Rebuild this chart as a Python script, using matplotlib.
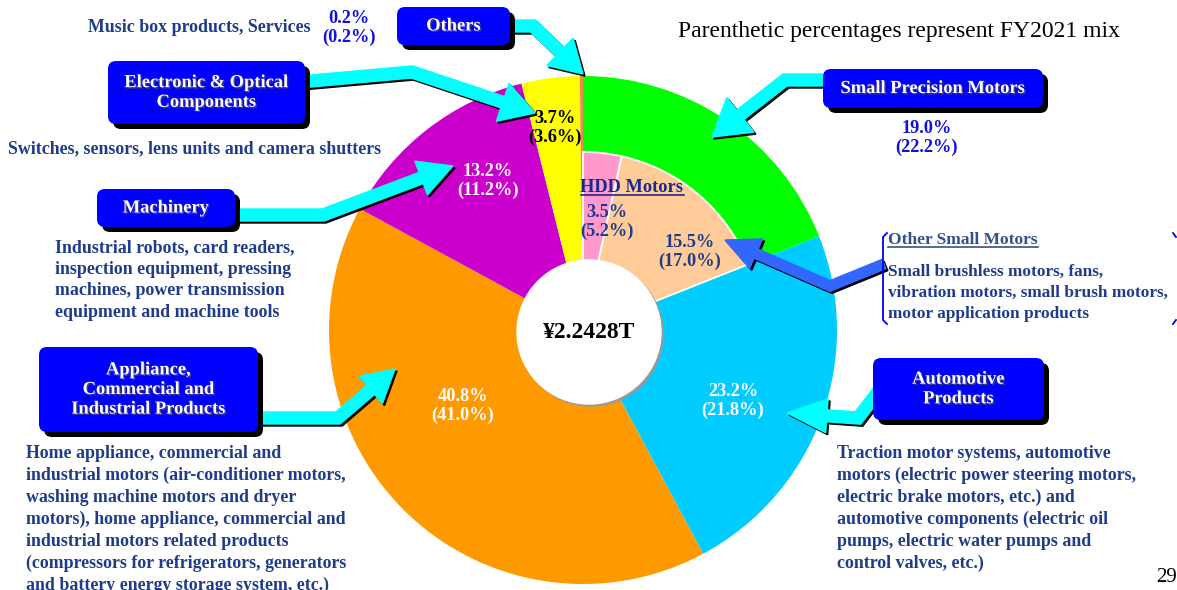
import numpy as np
import matplotlib
matplotlib.use('Agg')
import matplotlib.pyplot as plt
from matplotlib.patches import FancyBboxPatch, Circle, Polygon
import matplotlib.patheffects as pe

W, H = 1177, 590

# segment shares (clockwise from 12 o'clock), FY2022 and FY2021
segments = ['Small Precision Motors', 'Automotive Products',
            'Appliance, Commercial and Industrial Products', 'Machinery',
            'Electronic & Optical Components', 'Others']
share = [19.0, 23.2, 40.8, 13.2, 3.7, 0.2]
share_prev = [22.2, 21.8, 41.0, 11.2, 3.6, 0.2]
seg_colors = ['#00FF00', '#00CCFF', '#FF9900', '#CC00CC', '#FFFF00', '#F08A4B']

# split of small precision motors
sub_names = ['HDD Motors', 'Other Small Motors']
sub_share = [3.5, 15.5]
sub_prev = [5.2, 17.0]
sub_colors = ['#FF99CC', '#FFCC99']

total_sales = '¥2.2428T'

NAVY = '#1F3C8C'
BLUE = '#1010E0'
SERIF = ['Liberation Serif', 'DejaVu Serif']
PCT_SIZE = 13.2
DESC_SIZE = 12.85


def P(x, y):
    # pixel position (y down) -> data
    return (x, H - y)


fig = plt.figure(figsize=(W / 100, H / 100), dpi=100)
ax = fig.add_axes([0, 0, 1, 1])

cx, cy = P(583, 330)
ax.pie(share, colors=seg_colors, startangle=90, counterclock=False,
       radius=254, center=(cx, cy), wedgeprops=dict(linewidth=0))
inner_vals = sub_share + [sum(share) - sum(sub_share)]
wedges, _ = ax.pie(inner_vals, colors=sub_colors + ['none'], startangle=90,
                   counterclock=False, radius=178, center=(cx, cy),
                   wedgeprops=dict(linewidth=1.3, edgecolor='white'))
wedges[-1].set_edgecolor('none')

# center hole
hx, hy = P(589, 332)
ax.add_patch(Circle((hx + 2, hy - 2), 72, color='#999999', zorder=5))
ax.add_patch(Circle((hx, hy), 72, color='white', zorder=6))
ax.text(hx, hy, total_sales, ha='center', va='center', fontsize=17,
        fontweight='bold', family=SERIF, zorder=7)

ax.set_xlim(0, W)
ax.set_ylim(0, H)
ax.set_aspect('equal')
ax.axis('off')


def arrow(pts, color, w=12, hl=30, hw=36):
    pts = np.array([P(*p) for p in pts], dtype=float)
    d = pts[-1] - pts[-2]
    d /= np.linalg.norm(d)
    base = pts[-1] - d * hl
    line = np.vstack([pts[:-1], base])
    left, right = [], []
    for i in range(len(line)):
        if i == 0:
            t = line[1] - line[0]
        elif i == len(line) - 1:
            t = line[-1] - line[-2]
        else:
            t = None
        if t is not None:
            t = t / np.linalg.norm(t)
            n = np.array([-t[1], t[0]])
            off = n * w / 2
        else:
            t1 = line[i] - line[i - 1]
            t1 /= np.linalg.norm(t1)
            t2 = line[i + 1] - line[i]
            t2 /= np.linalg.norm(t2)
            n1 = np.array([-t1[1], t1[0]])
            n2 = np.array([-t2[1], t2[0]])
            m = n1 + n2
            m /= np.linalg.norm(m)
            off = m * (w / 2) / np.dot(m, n1)
        left.append(line[i] + off)
        right.append(line[i] - off)
    n = np.array([-d[1], d[0]])
    poly = left + [base + n * hw / 2, pts[-1], base - n * hw / 2] + right[::-1]
    poly = np.array(poly)
    ax.add_patch(Polygon(poly + [2, -2], closed=True, color='black', zorder=3))
    ax.add_patch(Polygon(poly, closed=True, color=color, zorder=4))


def box(x0, y0, x1, y1, text):
    bx, by = P(x0, y1)
    bw, bh = x1 - x0, y1 - y0
    ax.add_patch(FancyBboxPatch((bx + 5, by - 5), bw, bh,
                                boxstyle='round,pad=0,rounding_size=8',
                                fc='black', ec='none', zorder=8))
    ax.add_patch(FancyBboxPatch((bx, by), bw, bh,
                                boxstyle='round,pad=0,rounding_size=8',
                                fc='#0000FF', ec='none', zorder=9))
    ax.text(bx + bw / 2, by + bh / 2, text, ha='center', va='center',
            color='white', fontsize=13.3, fontweight='bold', family=SERIF,
            linespacing=1.2, zorder=10,
            path_effects=[pe.withSimplePatchShadow(offset=(1, -1),
                                                   shadow_rgbFace='#555555',
                                                   alpha=0.7)])


def txt(x, y, s, color=NAVY, size=DESC_SIZE, ha='left', va='center', ls=1.36, weight='bold'):
    return ax.text(*P(x, y), s, color=color, fontsize=size, ha=ha, va=va,
                   fontweight=weight, family=SERIF, linespacing=ls, zorder=11)


def underline(t, color):
    fig.canvas.draw()
    bb = t.get_window_extent().transformed(ax.transData.inverted())
    ax.plot([bb.x0, bb.x1], [bb.y0 + 1, bb.y0 + 1], color=color, lw=1.2, zorder=11)


# arrows
arrow([(505, 26), (533, 26), (583, 74)], '#00FFFF', hl=32, hw=38)
arrow([(300, 82), (412, 72), (535, 113)], '#00FFFF', hl=34, hw=40)
arrow([(828, 80), (785, 80), (712, 137)], '#00FFFF', hl=36, hw=44)
arrow([(230, 215), (323, 215), (453, 166)], '#00FFFF', hl=34, hw=36)
arrow([(255, 418), (338, 418), (395, 369)], '#00FFFF', hl=32, hw=36)
arrow([(878, 392), (858, 418), (787, 413)], '#00FFFF', hl=40, hw=34)
arrow([(884, 264), (830, 286), (725, 240)], '#3366FF', w=10, hl=34, hw=32)

# boxes
box(397, 7, 510, 45, 'Others')
box(108, 61, 305, 124, 'Electronic & Optical\nComponents')
box(823, 69, 1043, 108, 'Small Precision Motors')
box(97, 189, 235, 227, 'Machinery')
box(39, 347, 258, 432, 'Appliance,\nCommercial and\nIndustrial Products')
box(873, 358, 1044, 420, 'Automotive\nProducts')

ax.text(*P(678, 32), 'Parenthetic percentages represent FY2021 mix',
        fontsize=17, family=SERIF, ha='left', va='center', zorder=11)
ax.text(*P(1177, 577), '29', fontsize=15, family=SERIF, ha='right',
        va='center', zorder=11)


# percentage labels
def pct(i):
    return f'{share[i]:.1f}%\n({share_prev[i]:.1f}%)'


txt(927, 138, pct(0), color=BLUE, size=PCT_SIZE, ha='center', ls=1.1)
txt(733, 401, pct(1), color='white', size=PCT_SIZE, ha='center', ls=1.1)
txt(463, 406, pct(2), color='white', size=PCT_SIZE, ha='center', ls=1.1)
txt(488, 181, pct(3), color='white', size=PCT_SIZE, ha='center', ls=1.1)
txt(555, 128, pct(4), color='black', size=PCT_SIZE, ha='center', ls=1.1)
txt(349, 28, pct(5), color=BLUE, size=PCT_SIZE, ha='center', ls=1.1)

t_hdd = txt(632, 187, sub_names[0], color='#1A2A8C', size=PCT_SIZE, ha='center')
txt(607, 222, f'{sub_share[0]:.1f}%\n({sub_prev[0]:.1f}%)', color=NAVY,
    size=PCT_SIZE, ha='center', ls=1.1)
txt(690, 252, f'{sub_share[1]:.1f}%\n({sub_prev[1]:.1f}%)', color=NAVY,
    size=PCT_SIZE, ha='center', ls=1.1)

# descriptions
txt(88, 27, 'Music box products, Services')
txt(8, 149, 'Switches, sensors, lens units and camera shutters')
txt(55, 239, 'Industrial robots, card readers,\ninspection equipment, pressing\n'
    'machines, power transmission\nequipment and machine tools', va='top')
txt(26, 445, 'Home appliance, commercial and\nindustrial motors (air-conditioner motors,\n'
    'washing machine motors and dryer\nmotors), home appliance, commercial and\n'
    'industrial motors related products\n(compressors for refrigerators, generators\n'
    'and battery energy storage system, etc.)', va='top')
txt(837, 445, 'Traction motor systems, automotive\nmotors (electric power steering motors,\n'
    'electric brake motors, etc.) and\nautomotive components (electric oil\n'
    'pumps, electric water pumps and\ncontrol valves, etc.)', va='top')

t_osm = txt(888, 240, sub_names[1], color='#34508C', size=12.5)
txt(888, 264, 'Small brushless motors, fans,\nvibration motors, small brush motors,\n'
    'motor application products', va='top', size=12.4, ls=1.4)

# bracket around other small motors
bx0, by0 = P(883, 234)
bx1, by1 = P(883, 323)
ax.plot([bx0 + 4, bx0, bx0, bx0 + 4], [by0 + 1, by0 - 3, by1 + 3, by1 - 1],
        color='#0000FF', lw=1.3, zorder=11)
ax.plot([1173, 1176], [by0 + 1, by0 - 3], color='#0000FF', lw=1.3, zorder=11)
ax.plot([1173, 1176], [by1 - 1, by1 + 3], color='#0000FF', lw=1.3, zorder=11)

underline(t_hdd, '#1A2A8C')
underline(t_osm, '#34508C')

fig.savefig('out.png', dpi=100)
